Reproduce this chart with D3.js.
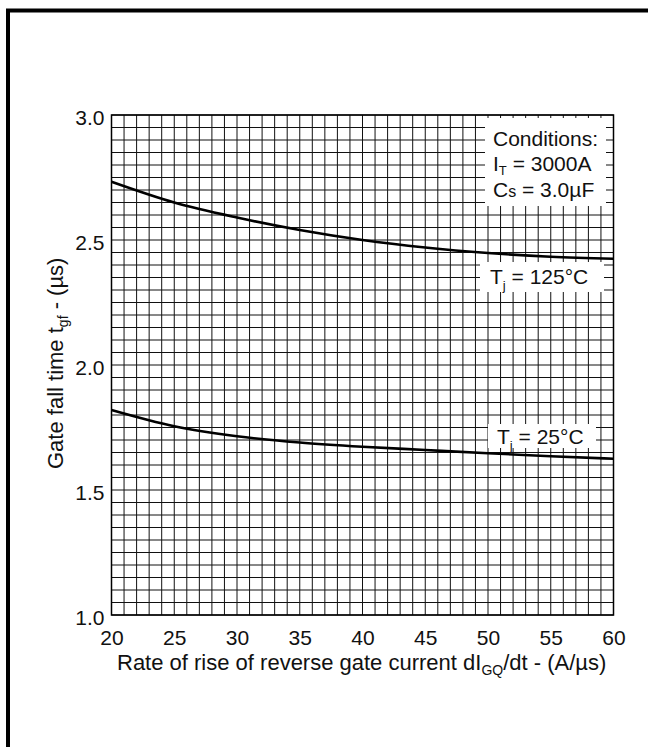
<!DOCTYPE html>
<html>
<head>
<meta charset="utf-8">
<script src="https://cdn.jsdelivr.net/npm/d3@7"></script>
<style>
  html, body { margin: 0; padding: 0; background: #fff; }
  svg { display: block; }
  text { font-family: "Liberation Sans", Arial, sans-serif; fill: #111; }
</style>
</head>
<body>
<svg id="chart" width="648" height="747"></svg>
<script>
// dI_GQ/dt in A/µs
const rateValues = [20, 25, 30, 35, 40, 45, 50, 55, 60];
// gate fall time t_gf in µs
const tgf125 = [2.733, 2.65, 2.59, 2.54, 2.50, 2.47, 2.448, 2.433, 2.425];
const tgf25  = [1.82, 1.755, 1.715, 1.69, 1.673, 1.66, 1.647, 1.635, 1.625];

const xTickLabels = [20, 25, 30, 35, 40, 45, 50, 55, 60];
const yTickLabels = [1.0, 1.5, 2.0, 2.5, 3.0];

const svg = d3.select("#chart");

// outer frame (extends past the right and bottom edges)
svg.append("rect")
  .attr("x", 8).attr("y", 10.5)
  .attr("width", 700).attr("height", 800)
  .attr("fill", "none").attr("stroke", "#000").attr("stroke-width", 4);

const x = d3.scaleLinear().domain([20, 60]).range([111.5, 613.5]);
const y = d3.scaleLinear().domain([1.0, 3.0]).range([615, 115]);

const plot = svg.append("g");

// fine grid: 1 A/µs by 0.05 µs
plot.append("g").selectAll("line")
  .data(x.ticks(40))
  .join("line")
  .attr("x1", d => x(d)).attr("x2", d => x(d))
  .attr("y1", y(1.0)).attr("y2", y(3.0))
  .attr("stroke", "#111").attr("stroke-width", 1);

plot.append("g").selectAll("line")
  .data(y.ticks(40))
  .join("line")
  .attr("y1", d => y(d)).attr("y2", d => y(d))
  .attr("x1", x(20)).attr("x2", x(60))
  .attr("stroke", "#111").attr("stroke-width", 1);

plot.append("rect")
  .attr("x", x(20)).attr("y", y(3.0))
  .attr("width", x(60) - x(20)).attr("height", y(1.0) - y(3.0))
  .attr("fill", "none").attr("stroke", "#000").attr("stroke-width", 1.5);

// curves
const line = d3.line()
  .x(d => x(d[0]))
  .y(d => y(d[1]))
  .curve(d3.curveMonotoneX);

[tgf125, tgf25].forEach(series => {
  plot.append("path")
    .datum(rateValues.map((r, i) => [r, series[i]]))
    .attr("d", line)
    .attr("fill", "none")
    .attr("stroke", "#000")
    .attr("stroke-width", 2.6);
});

// label boxes
function whiteBox(x0, y0, w, h) {
  svg.append("rect").attr("x", x0).attr("y", y0).attr("width", w).attr("height", h).attr("fill", "#fff");
}

const fs = 21;

whiteBox(485, 118, 121, 88);
const cond = svg.append("g").attr("font-size", fs);
cond.append("text").attr("x", 493).attr("y", 146).text("Conditions:");
const it = cond.append("text").attr("x", 493).attr("y", 171);
it.append("tspan").text("I");
it.append("tspan").attr("font-size", 13).attr("dy", 4).text("T");
it.append("tspan").attr("dy", -4).text(" = 3000A");
const cs = cond.append("text").attr("x", 493).attr("y", 197);
cs.append("tspan").text("C");
cs.append("tspan").attr("font-size", 16).text("s");
cs.append("tspan").text(" = 3.0µF");

whiteBox(480, 262, 124, 30);
const t125 = svg.append("text").attr("x", 490).attr("y", 284).attr("font-size", fs);
t125.append("tspan").text("T");
t125.append("tspan").attr("font-size", 13).attr("dy", 6).text("j");
t125.append("tspan").attr("dy", -6).text(" = 125°C");

whiteBox(488, 424, 108, 24);
const t25 = svg.append("text").attr("x", 497).attr("y", 444).attr("font-size", fs);
t25.append("tspan").text("T");
t25.append("tspan").attr("font-size", 13).attr("dy", 6).text("j");
t25.append("tspan").attr("dy", -6).text(" = 25°C");

// axes
const xAxis = svg.append("g")
  .attr("transform", `translate(0,${y(1.0)})`)
  .call(d3.axisBottom(x).tickValues(xTickLabels).tickSize(0).tickPadding(15).tickFormat(d3.format("d")));
xAxis.select(".domain").remove();
xAxis.selectAll("text").attr("font-size", fs).attr("font-family", "Liberation Sans, Arial, sans-serif").attr("fill", "#111");

const yAxis = svg.append("g")
  .attr("transform", `translate(${x(20)},0)`)
  .call(d3.axisLeft(y).tickValues(yTickLabels).tickSize(0).tickPadding(7).tickFormat(d3.format(".1f")));
yAxis.select(".domain").remove();
yAxis.selectAll("text").attr("font-size", fs).attr("font-family", "Liberation Sans, Arial, sans-serif").attr("fill", "#111").attr("dy", "0.45em");

// axis titles
const tfs = 22;
const xt = svg.append("text").attr("x", 117).attr("y", 670).attr("font-size", tfs);
xt.append("tspan").text("Rate of rise of reverse gate current  dI");
xt.append("tspan").attr("font-size", 14).attr("dy", 5).text("GQ");
xt.append("tspan").attr("dy", -5).text("/dt - (A/µs)");

const yt = svg.append("text")
  .attr("transform", "translate(63,469) rotate(-90)")
  .attr("font-size", tfs);
yt.append("tspan").text("Gate fall time t");
yt.append("tspan").attr("font-size", 14).attr("dy", 5).text("gf");
yt.append("tspan").attr("dy", -5).text(" - (µs)");
</script>
</body>
</html>
